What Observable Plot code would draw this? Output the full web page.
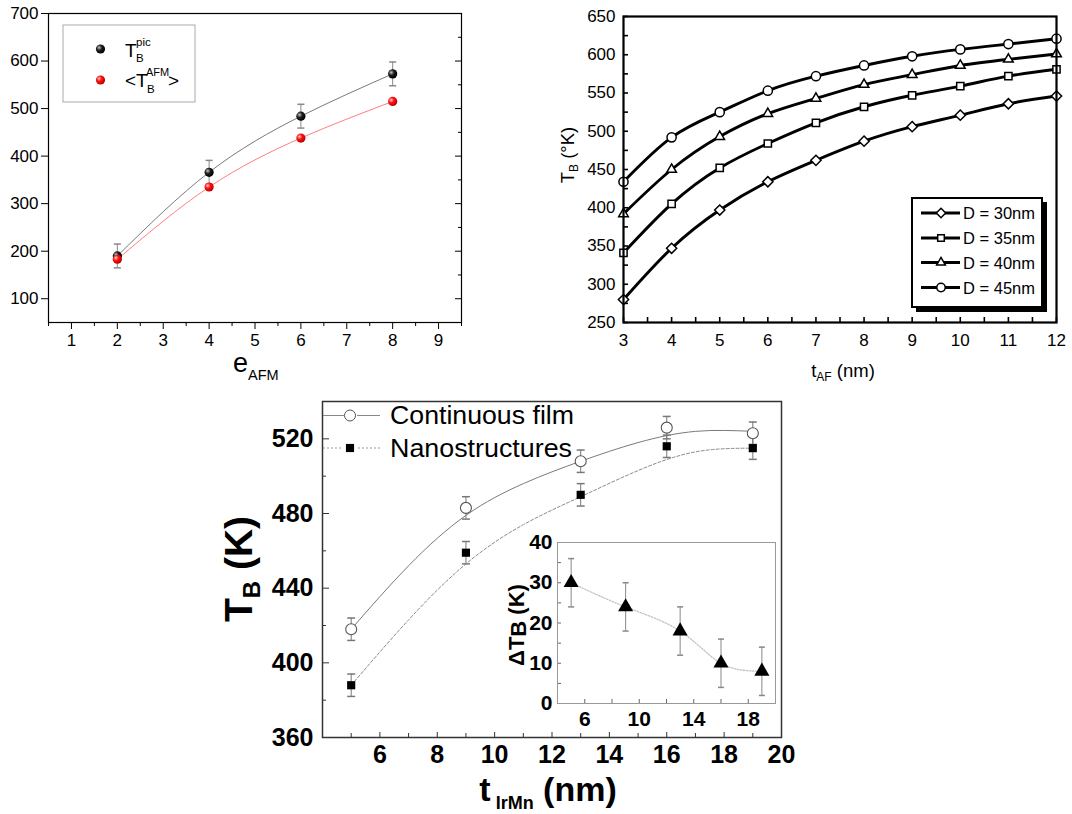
<!DOCTYPE html>
<html>
<head>
<meta charset="utf-8">
<script src="https://cdn.jsdelivr.net/npm/d3@7"></script>
<script src="https://cdn.jsdelivr.net/npm/@observablehq/plot@0.6"></script>
<style>
  html, body { margin: 0; padding: 0; background: #fff; overflow: hidden; }
  #root { position: relative; width: 1072px; height: 814px; overflow: hidden; background: #fff; }
  #root svg { position: absolute; left: 0; top: 0; background: transparent !important; max-width: none !important; }
</style>
</head>
<body>
<div id="root"></div>
<script>
// ---------------- Panel A (top-left) ----------------
const eAFM = [2, 4, 6, 8];
const tbPic = [190, 366, 484, 573];
const tbPicErr = [25, 25, 25, 25];
const tbAFM = [183, 335, 438, 515];
const aXTicks = [1, 2, 3, 4, 5, 6, 7, 8, 9];
const aYTicks = [100, 200, 300, 400, 500, 600, 700];

// ---------------- Panel B (top-right) ----------------
const tAF = [3, 4, 5, 6, 7, 8, 9, 10, 11, 12];
const seriesB = ["D = 30nm", "D = 35nm", "D = 40nm", "D = 45nm"];
const tbD30 = [280, 347, 397, 434, 462, 487, 506, 521, 536, 546];
const tbD35 = [341, 405, 452, 484, 511, 532, 547, 559, 572, 581];
const tbD40 = [392, 450, 493, 523, 543, 561, 574, 586, 594, 601];
const tbD45 = [434, 492, 525, 553, 572, 586, 598, 607, 614, 621];
const symbolsB = ["diamond2", "square2", "triangle2", "circle"];
const bXTicks = [3, 4, 5, 6, 7, 8, 9, 10, 11, 12];
const bYTicks = [250, 300, 350, 400, 450, 500, 550, 600, 650];

// ---------------- Panel C (bottom) ----------------
const tIrMn = [5, 9, 13, 16, 19];
const tbFilm = [418, 483, 508, 526, 523];
const tbNano = [388, 459, 490, 516, 515];
const errC = [6, 6, 6, 6, 6];
const fitX = [5, 7, 9, 11, 13, 15, 17, 19];
const fitFilm = [418, 452, 479, 496, 508, 518, 524, 524];
const fitNano = [388, 423, 453, 474, 489, 503, 513, 515];
const cXTicks = [6, 8, 10, 12, 14, 16, 18, 20];
const cYTicks = [360, 400, 440, 480, 520];
const legendC = ["Continuous film", "Nanostructures"];
// inset
const deltaTB = [30, 24, 18, 10, 8];
const deltaErr = [6, 6, 6, 6, 6];
const insetXTicks = [6, 10, 14, 18];
const insetYTicks = [0, 10, 20, 30, 40];

// ---------------- setup ----------------
const FONT = '"Liberation Sans", Arial, Helvetica, sans-serif';
const W = 1072, H = 814;
const root = document.getElementById("root");
const blank = () => "";
const capSymbol = { draw(ctx, size) { const w = Math.sqrt(size) / 2; ctx.moveTo(-w, 0); ctx.lineTo(w, 0); } };

function richText(svg, x, y, parts, { size, weight = "normal", anchor = "middle", rotate = 0, fill = "#000", textLength = null } = {}) {
  const t = d3.select(svg).append("text")
    .attr("transform", `translate(${x},${y}) rotate(${rotate})`)
    .attr("text-anchor", anchor)
    .attr("font-family", FONT)
    .attr("font-size", size)
    .attr("font-weight", weight)
    .attr("fill", fill);
  if (textLength) t.attr("textLength", textLength).attr("lengthAdjust", "spacingAndGlyphs");
  for (const p of parts) {
    t.append("tspan").attr("font-size", p.size || size).attr("dy", p.dy || 0).attr("dx", p.dx || 0).text(p.t);
  }
  return t;
}

// ================= Panel A =================
const dataA = eAFM.map((e, i) => ({ e, pic: tbPic[i], err: tbPicErr[i], afm: tbAFM[i] }));
const svgA = Plot.plot({
  width: W, height: H,
  marginLeft: 48, marginRight: W - 461, marginTop: 13, marginBottom: H - 322,
  x: { domain: [0.5, 9.5] },
  y: { domain: [50, 700] },
  style: { fontFamily: FONT, fontSize: "17px", color: "#000", background: "transparent" },
  marks: [
    Plot.frame({ stroke: "#000", strokeWidth: 1.2 }),
    Plot.axisX({ ticks: aXTicks, tickSize: 7, tickPadding: 4, label: null }),
    Plot.axisX({ ticks: d3.range(0.5, 9.6, 1), tickSize: 4, tickFormat: blank, label: null }),
    Plot.axisY({ ticks: aYTicks, tickSize: 7, tickPadding: 3, label: null }),
    Plot.axisY({ anchor: "right", ticks: aYTicks, tickSize: -7, tickFormat: blank, label: null }),
    Plot.axisY({ anchor: "right", ticks: d3.range(50, 701, 100), tickSize: -4, tickFormat: blank, label: null }),
    Plot.line(dataA, { x: "e", y: "pic", curve: "natural", stroke: "#7a7a7a", strokeWidth: 1 }),
    Plot.line(dataA, { x: "e", y: "afm", curve: "natural", stroke: "#ff7f7f", strokeWidth: 1 }),
    Plot.ruleX(dataA, { x: "e", y1: d => d.pic - d.err, y2: d => d.pic + d.err, stroke: "#8a8a8a", strokeWidth: 1 }),
    Plot.dot(dataA, { x: "e", y: d => d.pic + d.err, symbol: capSymbol, r: 4, stroke: "#8a8a8a", fill: "none" }),
    Plot.dot(dataA, { x: "e", y: d => d.pic - d.err, symbol: capSymbol, r: 4, stroke: "#8a8a8a", fill: "none" }),
    Plot.dot(dataA, { x: "e", y: "pic", r: 4.6, fill: "url(#sphereBlack)", stroke: "none" }),
    Plot.dot(dataA, { x: "e", y: "afm", r: 4.6, fill: "url(#sphereRed)", stroke: "none" })
  ]
});
root.appendChild(svgA);
{
  const defs = d3.select(svgA).insert("defs", ":first-child");
  const gb = defs.append("radialGradient").attr("id", "sphereBlack").attr("cx", "35%").attr("cy", "35%").attr("r", "65%");
  gb.append("stop").attr("offset", "0%").attr("stop-color", "#c8c8c8");
  gb.append("stop").attr("offset", "45%").attr("stop-color", "#202020");
  gb.append("stop").attr("offset", "100%").attr("stop-color", "#000");
  const gr = defs.append("radialGradient").attr("id", "sphereRed").attr("cx", "35%").attr("cy", "35%").attr("r", "65%");
  gr.append("stop").attr("offset", "0%").attr("stop-color", "#ffd0d0");
  gr.append("stop").attr("offset", "45%").attr("stop-color", "#ff1010");
  gr.append("stop").attr("offset", "100%").attr("stop-color", "#c00000");
  const s = d3.select(svgA);
  // legend
  s.append("rect").attr("x", 63).attr("y", 25).attr("width", 132).attr("height", 77)
    .attr("fill", "none").attr("stroke", "#aaa").attr("stroke-width", 1);
  s.append("circle").attr("cx", 100.5).attr("cy", 49).attr("r", 4.6).attr("fill", "url(#sphereBlack)");
  s.append("circle").attr("cx", 100.5).attr("cy", 80).attr("r", 4.6).attr("fill", "url(#sphereRed)");
  richText(svgA, 125, 57, [{ t: "T" }], { size: 19, anchor: "start" });
  richText(svgA, 136, 46, [{ t: "pic" }], { size: 11.5, anchor: "start" });
  richText(svgA, 136, 62, [{ t: "B" }], { size: 11.5, anchor: "start" });
  richText(svgA, 125, 87, [{ t: "<T" }], { size: 19, anchor: "start" });
  richText(svgA, 146, 76, [{ t: "AFM" }], { size: 11, anchor: "start" });
  richText(svgA, 147, 93, [{ t: "B" }], { size: 11.5, anchor: "start" });
  richText(svgA, 168, 87, [{ t: ">" }], { size: 19, anchor: "start" });
  // x label
  richText(svgA, 233, 372, [{ t: "e" }], { size: 27, anchor: "start" });
  richText(svgA, 248, 380, [{ t: "AFM" }], { size: 14.5, anchor: "start" });
}

// ================= Panel B =================
const seriesValsB = [tbD30, tbD35, tbD40, tbD45];
const dataB = seriesB.flatMap((name, si) => tAF.map((t, i) => ({ series: name, t, tb: seriesValsB[si][i] })));
const svgB = Plot.plot({
  width: W, height: H,
  marginLeft: 623, marginRight: W - 1056, marginTop: 16, marginBottom: H - 322,
  x: { domain: [3, 12] },
  y: { domain: [250, 650] },
  symbol: { domain: seriesB, range: symbolsB },
  style: { fontFamily: FONT, fontSize: "17px", color: "#000", background: "transparent" },
  marks: [
    Plot.axisX({ ticks: bXTicks, tickSize: 0, tickPadding: 11, label: null }),
    Plot.axisX({ ticks: d3.range(3, 12.01, 0.5), tickSize: -5, tickFormat: blank, label: null, strokeWidth: 1.6 }),
    Plot.axisY({ ticks: bYTicks, tickSize: 0, tickPadding: 8, label: null }),
    Plot.axisY({ ticks: d3.range(250, 651, 25), tickSize: -5, tickFormat: blank, label: null, strokeWidth: 1.6 }),
    Plot.line(dataB, { x: "t", y: "tb", z: "series", curve: "natural", stroke: "#000", strokeWidth: 2.9 }),
    Plot.dot(dataB, { x: "t", y: "tb", symbol: "series", r: 4.6, fill: "white", stroke: "#000", strokeWidth: 1.5 }),
    Plot.frame({ stroke: "#000", strokeWidth: 2.2 })
  ]
});
root.appendChild(svgB);
{
  const s = d3.select(svgB);
  // legend box with shadow
  s.append("rect").attr("x", 916).attr("y", 202).attr("width", 131).attr("height", 110).attr("fill", "#000");
  s.append("rect").attr("x", 912).attr("y", 198).attr("width", 130).attr("height", 109)
    .attr("fill", "#fff").attr("stroke", "#000").attr("stroke-width", 2);
  const rows = [213, 238, 262.5, 287.5];
  const symTypes = [d3.symbolDiamond2, d3.symbolSquare2, d3.symbolTriangle2, d3.symbolCircle];
  seriesB.forEach((name, i) => {
    s.append("line").attr("x1", 921).attr("x2", 960).attr("y1", rows[i]).attr("y2", rows[i])
      .attr("stroke", "#000").attr("stroke-width", 2.9);
    s.append("path").attr("transform", `translate(941,${rows[i]})`)
      .attr("d", d3.symbol(symTypes[i], Math.PI * 4.2 * 4.2)())
      .attr("fill", "#fff").attr("stroke", "#000").attr("stroke-width", 1.5);
    richText(svgB, 963, rows[i] + 6, [{ t: name }], { size: 16.5, anchor: "start" });
  });
  // axis labels
  richText(svgB, 574, 155, [{ t: "T" }, { t: "B", size: 12, dy: 4 }, { t: " (°K)", dy: -4 }], { size: 18.5, rotate: -90 });
  richText(svgB, 843, 377, [{ t: "t" }, { t: "AF", size: 12, dy: 4 }, { t: " (nm)", dy: -4 }], { size: 18.5 });
}

// ================= Panel C (main) =================
const dataC = tIrMn.map((x, i) => ({ x, film: tbFilm[i], nano: tbNano[i], err: errC[i] }));
const fitC = fitX.map((x, i) => ({ x, film: fitFilm[i], nano: fitNano[i] }));
const svgC = Plot.plot({
  width: W, height: H,
  marginLeft: 322, marginRight: W - 781, marginTop: 401, marginBottom: H - 737,
  x: { domain: [4, 20] },
  y: { domain: [360, 540] },
  style: { fontFamily: FONT, fontSize: "25px", fontWeight: "bold", color: "#000", background: "transparent" },
  marks: [
    Plot.axisX({ ticks: cXTicks, tickSize: 0, tickPadding: 8, label: null }),
    Plot.axisX({ ticks: cXTicks, tickSize: -5, tickFormat: blank, label: null, stroke: "#333" }),
    Plot.axisX({ ticks: d3.range(5, 20, 2), tickSize: -4, tickFormat: blank, label: null, stroke: "#333" }),
    Plot.axisY({ ticks: cYTicks, tickSize: 0, tickPadding: 9, label: null }),
    Plot.axisY({ ticks: cYTicks, tickSize: -7, tickFormat: blank, label: null, stroke: "#333" }),
    Plot.axisY({ ticks: d3.range(380, 540, 40), tickSize: -4, tickFormat: blank, label: null, stroke: "#333" }),
    Plot.line(fitC, { x: "x", y: "film", curve: "natural", stroke: "#7a7a7a", strokeWidth: 1 }),
    Plot.line(fitC, { x: "x", y: "nano", curve: "natural", stroke: "#8a8a8a", strokeWidth: 1, strokeDasharray: "3,2" }),
    Plot.ruleX(dataC, { x: "x", y1: d => d.film - d.err, y2: d => d.film + d.err, stroke: "#777" }),
    Plot.dot(dataC, { x: "x", y: d => d.film + d.err, symbol: capSymbol, r: 4.5, stroke: "#777", fill: "none" }),
    Plot.dot(dataC, { x: "x", y: d => d.film - d.err, symbol: capSymbol, r: 4.5, stroke: "#777", fill: "none" }),
    Plot.ruleX(dataC, { x: "x", y1: d => d.nano - d.err, y2: d => d.nano + d.err, stroke: "#777" }),
    Plot.dot(dataC, { x: "x", y: d => d.nano + d.err, symbol: capSymbol, r: 4.5, stroke: "#777", fill: "none" }),
    Plot.dot(dataC, { x: "x", y: d => d.nano - d.err, symbol: capSymbol, r: 4.5, stroke: "#777", fill: "none" }),
    Plot.dot(dataC, { x: "x", y: "film", r: 5.5, fill: "white", stroke: "#555", strokeWidth: 1.1 }),
    Plot.dot(dataC, { x: "x", y: "nano", symbol: "square", r: 4.6, fill: "#000", stroke: "none" }),
    Plot.frame({ stroke: "#333", strokeWidth: 1.5 })
  ]
});
root.appendChild(svgC);
{
  const s = d3.select(svgC);
  // legend
  s.append("line").attr("x1", 323).attr("x2", 344).attr("y1", 415.5).attr("y2", 415.5).attr("stroke", "#888");
  s.append("line").attr("x1", 357).attr("x2", 380).attr("y1", 415.5).attr("y2", 415.5).attr("stroke", "#888");
  s.append("circle").attr("cx", 350).attr("cy", 415.5).attr("r", 5.5).attr("fill", "#fff").attr("stroke", "#555");
  s.append("line").attr("x1", 323).attr("x2", 343).attr("y1", 448).attr("y2", 448).attr("stroke", "#999").attr("stroke-dasharray", "2,2");
  s.append("line").attr("x1", 358).attr("x2", 380).attr("y1", 448).attr("y2", 448).attr("stroke", "#999").attr("stroke-dasharray", "2,2");
  s.append("path").attr("transform", "translate(350,448)").attr("d", d3.symbol(d3.symbolSquare, Math.PI * 4.6 * 4.6)()).attr("fill", "#000");
  richText(svgC, 390, 424, [{ t: legendC[0] }], { size: 25, anchor: "start", textLength: 184 });
  richText(svgC, 390, 457, [{ t: legendC[1] }], { size: 25, anchor: "start", textLength: 182 });
  // axis labels
  richText(svgC, 252, 569, [{ t: "T" }, { t: "B", size: 24, dy: 8 }, { t: " (K)", dy: -8 }], { size: 39, weight: "bold", rotate: -90 });
  richText(svgC, 548, 801, [{ t: "t" }, { t: " IrMn", size: 18, dy: 8 }, { t: " (nm)", dy: -8 }], { size: 34, weight: "bold" });
}

// ================= Panel C (inset) =================
const dataInset = tIrMn.map((x, i) => ({ x, d: deltaTB[i], err: deltaErr[i] }));
const svgI = Plot.plot({
  width: W, height: H,
  marginLeft: 557, marginRight: W - 775, marginTop: 542, marginBottom: H - 703,
  x: { domain: [4, 20] },
  y: { domain: [0, 40] },
  style: { fontFamily: FONT, fontSize: "21px", fontWeight: "bold", color: "#000", background: "transparent" },
  marks: [
    Plot.frame({ fill: "white", stroke: "none" }),
    Plot.axisX({ ticks: insetXTicks, tickSize: 0, tickPadding: 8, label: null }),
    Plot.axisX({ ticks: d3.range(6, 19, 2), tickSize: -4, tickFormat: blank, label: null, stroke: "#666" }),
    Plot.axisY({ ticks: insetYTicks, tickSize: 0, tickPadding: 5, label: null }),
    Plot.axisY({ ticks: d3.range(0, 41, 5), tickSize: -4, tickFormat: blank, label: null, stroke: "#666" }),
    Plot.line(dataInset, { x: "x", y: "d", curve: "natural", stroke: "#c4c4c4", strokeWidth: 1.3, strokeDasharray: "1.5,1.5" }),
    Plot.ruleX(dataInset, { x: "x", y1: d => d.d - d.err, y2: d => d.d + d.err, stroke: "#888" }),
    Plot.dot(dataInset, { x: "x", y: d => d.d + d.err, symbol: capSymbol, r: 3.4, stroke: "#888", fill: "none" }),
    Plot.dot(dataInset, { x: "x", y: d => d.d - d.err, symbol: capSymbol, r: 3.4, stroke: "#888", fill: "none" }),
    Plot.dot(dataInset, { x: "x", y: "d", symbol: "triangle", r: 5.6, fill: "#000", stroke: "none" }),
    Plot.frame({ stroke: "#999", strokeWidth: 1 })
  ]
});
root.appendChild(svgI);
richText(svgI, 524, 625, [{ t: "ΔT" }, { t: "B", dy: 2 }, { t: " (K)", dy: -2 }], { size: 22, weight: "bold", rotate: -90 });
</script>
</body>
</html>
